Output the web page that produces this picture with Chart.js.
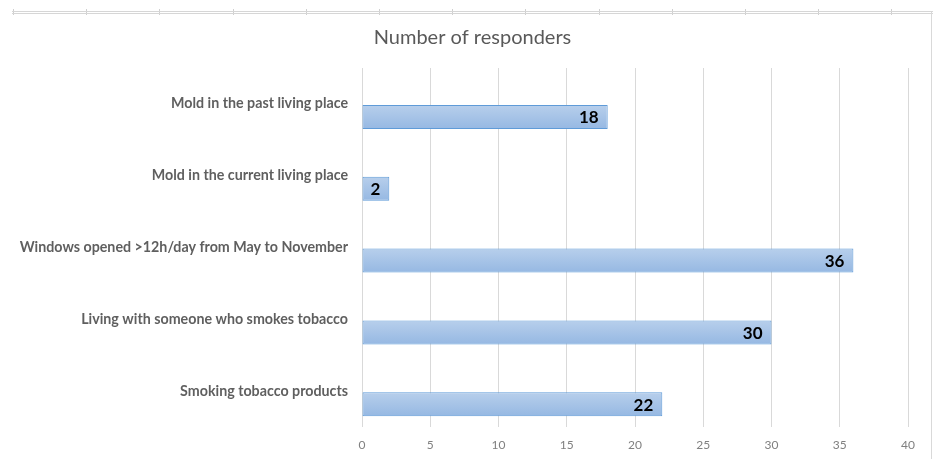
<!DOCTYPE html>
<html>
<head>
<meta charset="utf-8">
<script src="https://cdn.jsdelivr.net/npm/chart.js@4.4.1/dist/chart.umd.min.js"></script>
<style>
  html, body { margin: 0; padding: 0; background: #fff; }
  #wrap { position: relative; width: 933px; height: 459px; overflow: hidden; background: #fff; }
  #c { position: absolute; left: 0; top: 0; }
  .topline { position: absolute; left: 12px; right: 0; top: 11px; height: 1px;
             border-top: 1px solid #d6d6d6; border-bottom: 1px solid #d6d6d6; }
  .topticks { position: absolute; left: 13px; right: 0; top: 9px; height: 6px;
              background: repeating-linear-gradient(to right, #cfcfcf 0, #cfcfcf 1px, transparent 1px, transparent 73.2px); }
  .rightline { position: absolute; left: 931px; top: 12px; bottom: 0; width: 1px; background: #d9d9d9; }
</style>
</head>
<body>
<div id="wrap">
  <canvas id="c" width="933" height="459"></canvas>
  <div class="topticks"></div>
  <div class="topline"></div>
  <div class="rightline"></div>
</div>
<script>
// ---- data ----
const chartTitle = "Number of responders";
const categories = [
  "Mold in the past living place",
  "Mold in the current living place",
  "Windows opened >12h/day from May to November",
  "Living with someone who smokes tobacco",
  "Smoking tobacco products"
];
const responders = [18, 2, 36, 30, 22];
const spacer = [null, null, null, null, null]; // empty series (as in the original workbook)
const xTicks = [0, 5, 10, 15, 20, 25, 30, 35, 40];

const FONT = "Lato, 'Open Sans', sans-serif";
const FRAME_LEFT = 12;   // chart frame starts here (top rule)
const PAD_RIGHT = 25;

function barGradient(ctx) {
  const chart = ctx.chart;
  const yScale = chart.scales.y;
  if (!yScale || ctx.dataIndex === undefined) return '#a6c3e7';
  const center = yScale.getPixelForValue(ctx.dataIndex);
  const band = yScale.height / categories.length;
  const slot = band * 0.73 / 2;
  if (!isFinite(center) || !isFinite(slot) || slot <= 0) return '#a6c3e7';
  const g = chart.ctx.createLinearGradient(0, center, 0, center + slot);
  g.addColorStop(0, '#b9d0ec');
  g.addColorStop(1, '#94b7e2');
  return g;
}

// Title centred on the chart frame (FRAME_LEFT .. canvas right edge)
const frameTitle = {
  id: 'frameTitle',
  afterDraw(chart) {
    const ctx = chart.ctx;
    ctx.save();
    ctx.font = "20px " + FONT;
    ctx.fillStyle = '#595959';
    ctx.textAlign = 'center';
    ctx.textBaseline = 'middle';
    ctx.fillText(chartTitle, (FRAME_LEFT + chart.width) / 2, 38);
    ctx.restore();
  }
};

const valueLabels = {
  id: 'valueLabels',
  afterDatasetsDraw(chart) {
    const meta = chart.getDatasetMeta(1);
    const ctx = chart.ctx;
    ctx.save();
    ctx.font = "bold 17px " + FONT;
    ctx.fillStyle = '#000';
    ctx.textAlign = 'right';
    ctx.textBaseline = 'middle';
    meta.data.forEach((el, i) => {
      ctx.fillText(String(responders[i]), el.x - 9, el.y + 1);
    });
    ctx.restore();
  }
};

new Chart(document.getElementById('c'), {
  type: 'bar',
  data: {
    labels: categories,
    datasets: [
      { label: '', data: spacer },
      {
        label: chartTitle,
        data: responders,
        backgroundColor: barGradient,
        borderColor: '#5f9bd8',
        borderWidth: 1,
        borderSkipped: false
      }
    ]
  },
  options: {
    indexAxis: 'y',
    responsive: false,
    animation: false,
    categoryPercentage: 0.73,
    barPercentage: 0.916,
    layout: { padding: { top: 68, right: PAD_RIGHT, bottom: 0, left: FRAME_LEFT } },
    plugins: {
      legend: { display: false },
      tooltip: { enabled: false },
      title: { display: false }
    },
    scales: {
      x: {
        min: 0, max: 40,
        afterBuildTicks: (s) => { s.ticks = xTicks.map(v => ({ value: v })); },
        afterFit: (s) => { s.height = 32; },
        grid: { color: '#d9d9d9', lineWidth: 1, drawTicks: false },
        border: { display: false },
        ticks: { color: '#808080', padding: 11, font: { family: FONT, size: 12 } }
      },
      y: {
        grid: { display: false, drawTicks: false },
        border: { display: false },
        afterFit: (s) => { s.width = 362 - FRAME_LEFT; },
        ticks: { color: '#5f5f5f', padding: 14, font: { family: FONT, size: 14.25, weight: 'bold' } }
      }
    }
  },
  plugins: [valueLabels, frameTitle]
});
</script>
</body>
</html>
